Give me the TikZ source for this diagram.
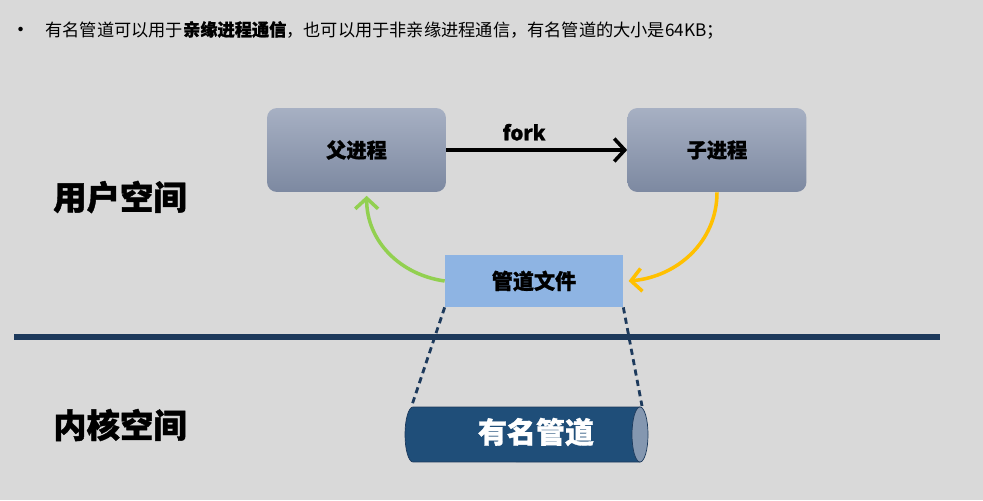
\documentclass[tikz,border=0pt]{standalone}
\usepackage{fontspec}
\setmainfont{Noto Sans CJK SC}[BoldFont={Noto Sans CJK SC Black},BoldFeatures={FakeBold=1.2}]
\usetikzlibrary{arrows.meta}
\definecolor{bgGray}{HTML}{D9D9D9}
\definecolor{procTop}{HTML}{A7B0C3}
\definecolor{procBot}{HTML}{7D89A1}
\definecolor{fileBlue}{HTML}{8EB4E3}
\definecolor{lineNavy}{HTML}{1D3A5C}
\definecolor{pipeBody}{HTML}{1F4E79}
\definecolor{pipeEnd}{HTML}{8497B0}
\definecolor{greenArr}{HTML}{92D050}
\definecolor{yellowArr}{HTML}{FFC000}

\begin{document}
\begin{tikzpicture}[x=0.02cm,y=-0.02cm,font=\bfseries,
  procbox/.style={rounded corners=0.2cm,top color=procTop,bottom color=procBot,
    minimum width=3.58cm,minimum height=1.68cm,font=\bfseries\fontsize{11.5}{13}\selectfont},
  flow/.style={line width=2pt,-{Straight Barb[length=6pt,width=13pt]}},
  space/.style={font=\bfseries\fontsize{19}{21}\selectfont}]
\fill[bgGray] (0,0) rectangle (983,500);
\useasboundingbox (0,0) rectangle (983,500);
% top line
\node[font=\mdseries\fontsize{12}{12}\selectfont] (bullet) at (21,32) {•};
\node[anchor=west,inner sep=0pt,font=\mdseries\fontsize{9.8}{12}\selectfont] (intro) at (45,30)
  {有名管道可以用于\textbf{亲缘进程通信}，也可以用于非亲缘进程通信，有名管道的大小是64KB；};
% user space
\node[space] (userspace) at (120,197) {用户空间};
\node[procbox] (parent) at (356.5,150) {父进程};
\node[procbox] (child) at (717,150) {子进程};
\draw[flow] (parent) -- node[pos=0.43,above=1pt,font=\bfseries\fontsize{11.5}{13}\selectfont] {fork} (child);
\node[fill=fileBlue,minimum width=3.56cm,minimum height=1.04cm,
  font=\bfseries\fontsize{12}{14}\selectfont] (file) at (534,281) {管道文件};
\draw[flow,greenArr] (file.west) to[out=172,in=-90] ([xshift=2cm,yshift=-2pt]parent.south west);
\draw[flow,yellowArr] (child.south) to[out=-90,in=5] ([xshift=3pt]file.east);
% divider
\coordinate (divl) at (14,337);
\coordinate (divr) at (940,337);
\draw[lineNavy,line width=3.4pt] (divl) -- (divr);
% kernel space
\node[space] (kernelspace) at (120,425) {内核空间};
\fill[pipeBody,draw=lineNavy] (640,407) -- (413,407)
  arc[start angle=90,end angle=270,x radius=0.16cm,y radius=0.55cm] -- (640,462) -- cycle;
\draw[fill=pipeEnd,draw=lineNavy] (640,434.5) ellipse[x radius=0.16cm,y radius=0.55cm];
\node[text=white,font=\bfseries\fontsize{16.5}{18}\selectfont] (pipe) at (536,432) {有名管道};
\coordinate (pipeNW) at (412,405);
\coordinate (pipeNE) at (642,406);
\draw[lineNavy,line width=1.6pt,dash pattern=on 3.5pt off 2.5pt] (file.south west) -- (pipeNW);
\draw[lineNavy,line width=1.6pt,dash pattern=on 3.5pt off 2.5pt] (file.south east) -- (pipeNE);
\end{tikzpicture}
\end{document}
